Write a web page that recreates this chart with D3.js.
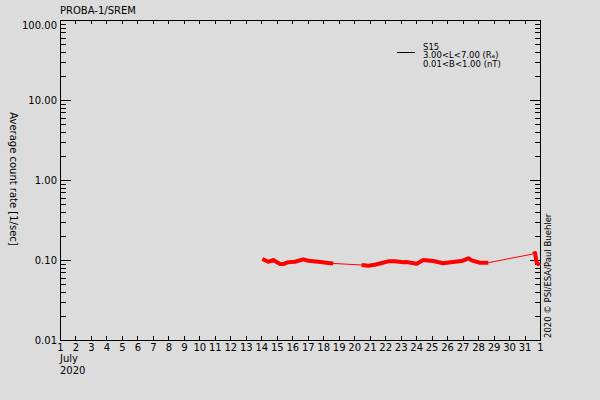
<!DOCTYPE html>
<html>
<head>
<meta charset="utf-8">
<script src="https://cdn.jsdelivr.net/npm/d3@7"></script>
<style>
  body { margin: 0; background: #dcdcdc; }
  svg { display: block; font-family: "DejaVu Sans", sans-serif; }
  .axis path, .axis line { stroke: #000; shape-rendering: crispEdges; }
</style>
</head>
<body>
<div id="wrapper"></div>
<script>
// values (day of July 2020, average count rate)
const days = [14.07, 14.45, 14.78, 15.21, 15.42, 15.74, 16.18, 16.71, 17.04, 17.68, 18.33, 18.65,
              20.48, 20.91, 21.34, 21.78, 22.2, 22.64, 23.17, 23.39, 24.04, 24.46, 25.11, 25.75,
              25.97, 26.51, 26.94, 27.37, 27.59, 28.12, 28.66,
              31.55, 31.68, 31.79, 31.89, 31.97];
const rates = [0.103, 0.095, 0.100, 0.089, 0.089, 0.094, 0.095, 0.102, 0.098, 0.095, 0.092, 0.0905,
               0.0866, 0.085, 0.0873, 0.0917, 0.0963, 0.0963, 0.0936, 0.0944, 0.090, 0.100, 0.097, 0.091,
               0.0925, 0.0952, 0.097, 0.105, 0.099, 0.0925, 0.0925,
               0.119, 0.122, 0.0925, 0.089, 0.092];
const yMajorTicks = [0.01, 0.1, 1, 10, 100];
const xTickValues = d3.range(1, 33);
const xTickLabels = ["1","2","3","4","5","6","7","8","9","10","11","12","13","14","15","16",
                     "17","18","19","20","21","22","23","24","25","26","27","28","29","30","31","1"];
const legendLines = ["S15", "3.00<L<7.00 (R\u2091)", "0.01<B<1.00 (nT)"];

const data = days.map((d, i) => ({day: d, rate: rates[i]}));

let dimensions = {
  width: 600,
  height: 400,
  margin: {top: 20, right: 60, bottom: 60, left: 60},
}
dimensions.boundedWidth = dimensions.width - dimensions.margin.left - dimensions.margin.right;
dimensions.boundedHeight = dimensions.height - dimensions.margin.top - dimensions.margin.bottom;

const wrapper = d3.select("#wrapper").append("svg")
  .attr("width", dimensions.width)
  .attr("height", dimensions.height);
const bounds = wrapper.append("g")
  .attr("transform", `translate(${dimensions.margin.left},${dimensions.margin.top})`);

const xScale = d3.scaleLinear().domain([1, 32]).range([0, dimensions.boundedWidth]);
const yScale = d3.scaleLog().domain([0.01, 100]).range([dimensions.boundedHeight, 0]);

const yMinorTicks = [];
[0.01, 0.1, 1, 10].forEach(dec => d3.range(2, 10).forEach(m => yMinorTicks.push(dec * m)));

// axes
const xAxis = bounds.append("g").attr("class", "axis")
  .attr("transform", `translate(0,${dimensions.boundedHeight})`)
  .call(d3.axisBottom(xScale).tickValues(xTickValues).tickSizeInner(-4).tickSizeOuter(0)
    .tickPadding(4).tickFormat((d, i) => xTickLabels[i]));
bounds.append("g").attr("class", "axis")
  .call(d3.axisTop(xScale).tickValues(xTickValues).tickSizeInner(-4).tickSizeOuter(0).tickFormat(""));

const yAxis = bounds.append("g").attr("class", "axis")
  .call(d3.axisLeft(yScale).tickValues(yMajorTicks).tickSizeInner(-11).tickSizeOuter(0)
    .tickPadding(3).tickFormat(d3.format(".2f")));
bounds.append("g").attr("class", "axis")
  .call(d3.axisLeft(yScale).tickValues(yMinorTicks).tickSizeInner(-6).tickSizeOuter(0).tickFormat(""));

const right = bounds.append("g").attr("class", "axis")
  .attr("transform", `translate(${dimensions.boundedWidth},0)`);
right.append("g").call(d3.axisRight(yScale).tickValues(yMajorTicks).tickSizeInner(-10).tickSizeOuter(0).tickFormat(""));
right.append("g").call(d3.axisRight(yScale).tickValues(yMinorTicks).tickSizeInner(-5).tickSizeOuter(0).tickFormat(""));

bounds.selectAll(".axis text").attr("fill", "#000").style("font-size", "10px")
  .style("font-family", "'DejaVu Sans', sans-serif");
yAxis.selectAll(".tick text").filter(d => d === 100).attr("dy", "0.8em");

// data: thin line through everything, thick line where the data is continuous
const lineGenerator = d3.line()
  .x(d => xScale(d.day))
  .y(d => yScale(d.rate));

bounds.append("path")
  .datum(data)
  .attr("d", lineGenerator)
  .attr("fill", "none")
  .attr("stroke", "#ff0000")
  .attr("stroke-width", 1);

const segments = [];
data.forEach((d, i) => {
  if (i === 0 || d.day - data[i - 1].day > 1) segments.push([]);
  segments[segments.length - 1].push(d);
});
bounds.selectAll(".seg").data(segments).join("path")
  .attr("class", "seg")
  .attr("d", lineGenerator)
  .attr("fill", "none")
  .attr("stroke", "#ff0000")
  .attr("stroke-width", 4)
  .attr("stroke-linejoin", "round");

// texts
wrapper.append("text").attr("x", 60).attr("y", 14)
  .style("font-size", "10px").text("PROBA-1/SREM");
wrapper.append("text").attr("x", 60).attr("y", 362)
  .style("font-size", "10px").text("July");
wrapper.append("text").attr("x", 60).attr("y", 374)
  .style("font-size", "10px").text("2020");
wrapper.append("text")
  .attr("transform", "translate(10,179) rotate(90)")
  .attr("text-anchor", "middle")
  .style("font-size", "10px")
  .text("Average count rate [1/sec]");
wrapper.append("text")
  .attr("transform", "translate(551,338) rotate(-90)")
  .style("font-size", "8.5px")
  .text("2020 \u00a9 PSI/ESA/Paul Buehler");

// legend
const legend = wrapper.append("g");
legend.append("line")
  .attr("x1", 397).attr("x2", 415).attr("y1", 52.5).attr("y2", 52.5)
  .attr("stroke", "#000");
legend.selectAll("text").data(legendLines).join("text")
  .attr("x", 423)
  .attr("y", (d, i) => [49.5, 58, 67][i])
  .style("font-size", "8.5px")
  .text(d => d);
</script>
</body>
</html>
